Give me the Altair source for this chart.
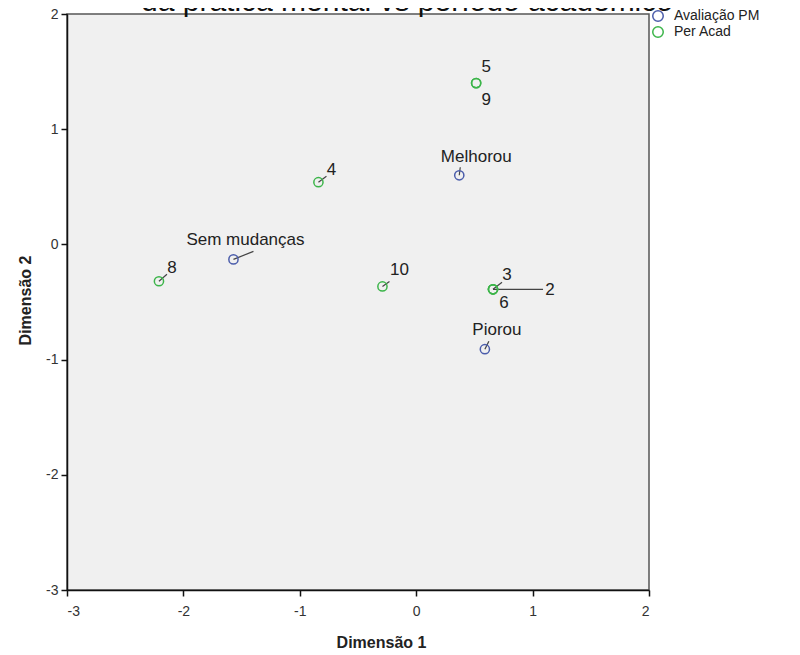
import altair as alt
import pandas as pd

# ---- data ----
row_labels = ["Melhorou", "Sem mudanças", "Piorou"]
row_x = [0.37, -1.57, 0.59]
row_y = [0.60, -0.13, -0.91]

col_labels = ["2", "3", "4", "5", "6", "8", "9", "10"]
col_x = [0.66, 0.66, -0.84, 0.515, 0.66, -2.21, 0.515, -0.29]
col_y = [-0.39, -0.39, 0.54, 1.40, -0.39, -0.32, 1.40, -0.365]

groups = ["Avaliação PM", "Per Acad"]
colors = ["#4b5dab", "#3cb54a"]

x_ticks = [-3, -2, -1, 0, 1, 2]
y_ticks = [-3, -2, -1, 0, 1, 2]

title_text = "da prática mental vs período acadêmico"

# ---- label placement (pixels from point: text anchor, leader end) ----
label_place = {
    "Melhorou": (17, -18, 1, -8),
    "Sem mudanças": (12, -19, 20, -8),
    "Piorou": (12, -19, 4, -8),
    "2": (57, 1, 50, 0),
    "3": (14, -14, 9, -7),
    "4": (13, -12, 8, -6),
    "5": (10, -16, 0, 0),
    "6": (11, 14, 0, 0),
    "8": (13, -13, 8, -7),
    "9": (10, 17, 0, 0),
    "10": (17, -16, 7, -5),
}

W, H = 582, 576
XMIN, XMAX, YMIN, YMAX = -3, 2, -3, 2
px_x = W / (XMAX - XMIN)
px_y = H / (YMAX - YMIN)

rows = []
for lab, x, y in zip(row_labels, row_x, row_y):
    rows.append({"label": lab, "x": x, "y": y, "group": groups[0]})
for lab, x, y in zip(col_labels, col_x, col_y):
    rows.append({"label": lab, "x": x, "y": y, "group": groups[1]})
df = pd.DataFrame(rows)
df["tx"] = [x + label_place[l][0] / px_x for l, x in zip(df["label"], df["x"])]
df["ty"] = [y - label_place[l][1] / px_y for l, y in zip(df["label"], df["y"])]
df["lx"] = [x + label_place[l][2] / px_x for l, x in zip(df["label"], df["x"])]
df["ly"] = [y - label_place[l][3] / px_y for l, y in zip(df["label"], df["y"])]

xs = alt.Scale(domain=[XMIN, XMAX], nice=False, zero=False)
ys = alt.Scale(domain=[YMIN, YMAX], nice=False, zero=False)

base = alt.Chart(df)

leaders = base.mark_rule(color="#444444", strokeWidth=1.2).encode(
    x=alt.X("x:Q", scale=xs), y=alt.Y("y:Q", scale=ys),
    x2="lx:Q", y2="ly:Q",
)

points = base.mark_point(shape="circle", filled=False, size=85, strokeWidth=1.5, opacity=1).encode(
    x=alt.X("x:Q", scale=xs,
            axis=alt.Axis(title="Dimensão 1", values=x_ticks, labelExpr="toString(datum.value)",
                          titleX=314)),
    y=alt.Y("y:Q", scale=ys,
            axis=alt.Axis(title="Dimensão 2", values=y_ticks, labelExpr="toString(datum.value)",
                          titleY=286)),
    color=alt.Color("group:N", scale=alt.Scale(domain=groups, range=colors),
                    legend=alt.Legend(title=None, orient="none", legendX=584, legendY=-5,
                                      symbolType="circle", symbolFillColor="transparent",
                                      symbolStrokeWidth=1.5, symbolSize=110,
                                      labelFontSize=14, labelFont="Liberation Sans",
                                      labelColor="#222222", rowPadding=-2, labelOffset=9)),
)

labels = base.mark_text(font="Liberation Sans", fontSize=17, color="#222222",
                        align="center", baseline="middle").encode(
    x=alt.X("tx:Q", scale=xs), y=alt.Y("ty:Q", scale=ys), text="label:N",
)

title_df = pd.DataFrame({"t": [title_text]})
title = alt.Chart(title_df).mark_text(font="Liberation Sans", fontSize=30, color="#111111",
                                      align="center", baseline="alphabetic").encode(
    x=alt.value(340), y=alt.value(-3), text="t:N",
)

chart = alt.layer(leaders, points, labels, title).properties(
    width=W, height=H,
    autosize=alt.AutoSizeParams(type="none"),
    padding={"left": 59, "top": 6, "right": 143, "bottom": 65},
).configure_view(
    fill="#f0f0f0", stroke="#555555", strokeWidth=1.5,
).configure_axis(
    grid=False, domainColor="#111111", domainWidth=1.5, tickColor="#111111", tickWidth=1.5,
    tickSize=6, labelFont="Liberation Sans", labelFontSize=14, labelColor="#333333",
    titleFont="Liberation Sans", titleFontSize=16, titleFontWeight="bold", titleColor="#222222",
).configure_axisX(titlePadding=16, labelPadding=8).configure_axisY(titlePadding=12, labelPadding=3)

chart.save("out.html", embed_options={"renderer": "svg", "actions": False})
